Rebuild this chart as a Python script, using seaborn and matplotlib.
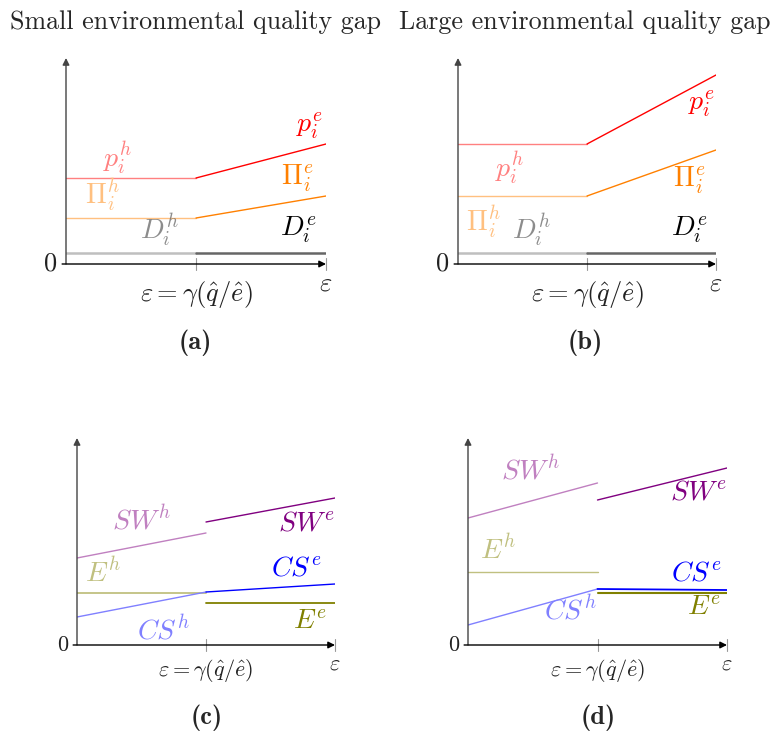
import numpy as np
import pandas as pd
import matplotlib
matplotlib.use("Agg")
import matplotlib.pyplot as plt
import seaborn as sns

sns.set_theme(style="white")
plt.rcParams["mathtext.fontset"] = "cm"
plt.rcParams["font.family"] = ["cmr10", "DejaVu Serif"]
plt.rcParams["axes.formatter.use_mathtext"] = True

# ---------------- data (x: 0 = origin, 1 = threshold, 2 = end) ----------------
x_left = [0, 1]
x_right = [1, 2]

# Panel (a): small gap
a_ph = [86, 86]
a_pe = [86, 120]
a_Pih = [46, 46]
a_Pie = [46, 68]
a_Dh = [11, 11]
a_De = [11, 11]

# Panel (b): large gap
b_ph = [120, 120]
b_pe = [120, 189]
b_Pih = [68, 68]
b_Pie = [68, 114]
b_Dh = [11, 11]
b_De = [11, 11]

# Panel (c): small gap welfare
c_SWh = [87, 112]
c_SWe = [123, 147]
c_Eh = [52, 52]
c_Ee = [42, 42]
c_CSh = [28, 53]
c_CSe = [53, 61]

# Panel (d): large gap welfare
d_SWh = [127, 162]
d_SWe = [145, 177]
d_Eh = [73, 73]
d_Ee = [52, 52]
d_CSh = [20, 56]
d_CSe = [56, 55]

titles = ["Small environmental quality gap", "Large environmental quality gap"]
panel_tags = ["(a)", "(b)", "(c)", "(d)"]
thr_label = r"$\varepsilon = \gamma(\hat{q}/\hat{e})$"
end_label = r"$\varepsilon$"

W, H = 774, 736
fig = plt.figure(figsize=(W / 100, H / 100), dpi=100)


def make_ax(x0, x1, y0, ytop):
    ax = fig.add_axes([x0 / W, (H - y0) / H, (x1 - x0) / W, (y0 - ytop) / H])
    ax.set_xlim(0, 2)
    ax.set_ylim(0, y0 - ytop)
    ax.axis("off")
    return ax


def draw_axes(ax, top, fs, thr_dy, end_dy):
    ax.annotate("", xy=(0, top), xytext=(0, 0), xycoords="data",
                arrowprops=dict(arrowstyle="-|>", color="#444444", lw=1.0,
                                mutation_scale=10, shrinkA=0, shrinkB=0),
                annotation_clip=False)
    ax.annotate("", xy=(2, 0), xytext=(-0.03, 0), xycoords="data",
                arrowprops=dict(arrowstyle="-|>", color="black", lw=1.0,
                                mutation_scale=10, shrinkA=0, shrinkB=0),
                annotation_clip=False)
    for xv in (1, 2):
        ax.plot([xv, xv], [-6, 6], color="#999999", lw=0.8, clip_on=False)
    ax.text(-0.07, 0, "0", ha="right", va="center", fontsize=fs, color="#222222")
    ax.text(1, thr_dy, thr_label, ha="center", va="center", fontsize=fs, color="#222222")
    ax.text(2, end_dy, end_label, ha="center", va="center", fontsize=fs, color="#222222")


def seg(ax, xs, ys, color, lw=1.0):
    df = pd.DataFrame({"x": xs, "y": ys})
    sns.lineplot(data=df, x="x", y="y", ax=ax, color=color, lw=lw,
                 estimator=None, sort=False, legend=False)
    ax.set_xlabel("")
    ax.set_ylabel("")


red, red_l = "#ff0000", "#ff8080"
org, org_l = "#ff8000", "#ffc080"
gry, gry_l = "#666666", "#bfbfbf"
pur, pur_l = "#800080", "#c080c0"
olv, olv_l = "#808000", "#c0c080"
blu, blu_l = "#0000ff", "#8080ff"

TAGFONT = dict(fontsize=19, family=["cmb10", "DejaVu Serif"])
TITLEFS = 18.7
fsl = 20
fsb = 20

# ---------------- panel (a) ----------------
ax = make_ax(66, 326, 264, 58)
seg(ax, x_left, a_ph, red_l)
seg(ax, x_right, a_pe, red)
seg(ax, x_left, a_Pih, org_l)
seg(ax, x_right, a_Pie, org)
seg(ax, x_left, a_Dh, gry_l, 1.8)
seg(ax, x_right, a_De, gry, 1.8)
draw_axes(ax, 206, 19, -31, -20)
ax.text(0.40, 106, r"$p_i^h$", color=red_l, fontsize=fsl, ha="center", va="center")
ax.text(0.28, 69, r"$\Pi_i^h$", color=org_l, fontsize=fsl, ha="center", va="center")
ax.text(0.72, 34, r"$D_i^h$", color=gry, alpha=0.75, fontsize=fsl, ha="center", va="center")
ax.text(1.87, 138, r"$p_i^e$", color=red, fontsize=fsl, ha="center", va="center")
ax.text(1.78, 86, r"$\Pi_i^e$", color=org, fontsize=fsl, ha="center", va="center")
ax.text(1.79, 34, r"$D_i^e$", color="black", fontsize=fsl, ha="center", va="center")
fig.text(196 / W, 1 - 22 / H, titles[0], ha="center", va="center", fontsize=TITLEFS)
fig.text(195 / W, 1 - 343 / H, panel_tags[0], ha="center", va="center", **TAGFONT)

# ---------------- panel (b) ----------------
ax = make_ax(458, 716, 264, 58)
seg(ax, x_left, b_ph, red_l)
seg(ax, x_right, b_pe, red)
seg(ax, x_left, b_Pih, org_l)
seg(ax, x_right, b_Pie, org)
seg(ax, x_left, b_Dh, gry_l, 1.8)
seg(ax, x_right, b_De, gry, 1.8)
draw_axes(ax, 206, 19, -31, -20)
ax.text(0.40, 96, r"$p_i^h$", color=red_l, fontsize=fsl, ha="center", va="center")
ax.text(0.20, 42, r"$\Pi_i^h$", color=org_l, fontsize=fsl, ha="center", va="center")
ax.text(0.57, 34, r"$D_i^h$", color=gry, alpha=0.75, fontsize=fsl, ha="center", va="center")
ax.text(1.89, 160, r"$p_i^e$", color=red, fontsize=fsl, ha="center", va="center")
ax.text(1.79, 84, r"$\Pi_i^e$", color=org, fontsize=fsl, ha="center", va="center")
ax.text(1.79, 34, r"$D_i^e$", color="black", fontsize=fsl, ha="center", va="center")
fig.text(585 / W, 1 - 22 / H, titles[1], ha="center", va="center", fontsize=TITLEFS)
fig.text(585 / W, 1 - 343 / H, panel_tags[1], ha="center", va="center", **TAGFONT)

# ---------------- panel (c) ----------------
ax = make_ax(77, 335, 645, 438)
seg(ax, x_left, c_SWh, pur_l)
seg(ax, x_right, c_SWe, pur)
seg(ax, x_left, c_Eh, olv_l, 1.3)
seg(ax, x_right, c_Ee, olv, 1.3)
seg(ax, x_left, c_CSh, blu_l)
seg(ax, x_right, c_CSe, blu)
draw_axes(ax, 207, 16, -26, -19)
ax.text(0.50, 125, r"$SW^h$", color=pur_l, fontsize=fsb, ha="center", va="center")
ax.text(0.20, 72, r"$E^h$", color=olv_l, fontsize=fsb, ha="center", va="center")
ax.text(0.67, 15, r"$CS^h$", color=blu_l, fontsize=fsb, ha="center", va="center")
ax.text(1.78, 122, r"$SW^e$", color=pur, fontsize=fsb, ha="center", va="center")
ax.text(1.70, 77, r"$CS^e$", color=blu, fontsize=fsb, ha="center", va="center")
ax.text(1.81, 23, r"$E^e$", color=olv, fontsize=fsb, ha="center", va="center")
fig.text(207 / W, 1 - 718 / H, panel_tags[2], ha="center", va="center", **TAGFONT)

# ---------------- panel (d) ----------------
ax = make_ax(468, 727, 645, 438)
seg(ax, x_left, d_SWh, pur_l)
seg(ax, x_right, d_SWe, pur)
seg(ax, x_left, d_Eh, olv_l)
seg(ax, x_right, d_Ee, olv, 1.5)
seg(ax, x_left, d_CSh, blu_l)
seg(ax, x_right, d_CSe, blu, 1.3)
draw_axes(ax, 207, 16, -26, -19)
ax.text(0.48, 175, r"$SW^h$", color=pur_l, fontsize=fsb, ha="center", va="center")
ax.text(0.23, 95, r"$E^h$", color=olv_l, fontsize=fsb, ha="center", va="center")
ax.text(0.79, 35, r"$CS^h$", color=blu_l, fontsize=fsb, ha="center", va="center")
ax.text(1.78, 153, r"$SW^e$", color=pur, fontsize=fsb, ha="center", va="center")
ax.text(1.76, 72, r"$CS^e$", color=blu, fontsize=fsb, ha="center", va="center")
ax.text(1.82, 37, r"$E^e$", color=olv, fontsize=fsb, ha="center", va="center")
fig.text(598 / W, 1 - 718 / H, panel_tags[3], ha="center", va="center", **TAGFONT)

fig.savefig("out.png", dpi=100, facecolor="white")
